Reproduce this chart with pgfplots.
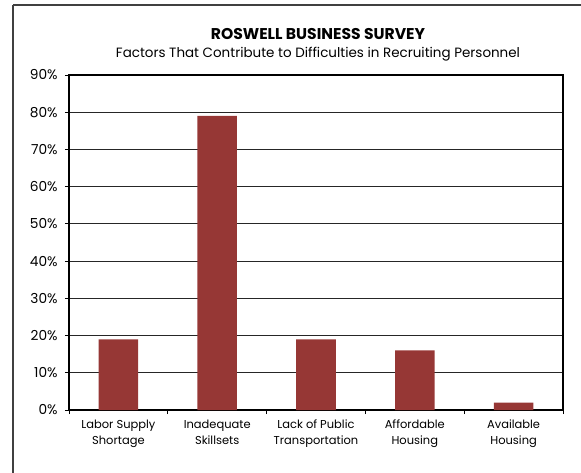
\documentclass[border=0pt]{standalone}
\usepackage{pgfplots}
\pgfplotsset{compat=1.18}
\usepackage{fontspec}
\setmainfont{Poppins}
\definecolor{barred}{RGB}{150,55,53}
\begin{document}
\begin{tikzpicture}
\begin{scope}[x=0.75pt,y=-0.75pt]
\useasboundingbox (0,0) rectangle (581,473);
\draw[line width=0.9pt, black!75] (13,5) -- (590,5);
\draw[line width=0.9pt, black!75] (13,5) -- (13,480);
\node[font=\bfseries\fontsize{11.7}{13}\selectfont] at (318,34) {ROSWELL BUSINESS SURVEY};
\node[font=\fontsize{10.1}{12}\selectfont] at (318,54) {Factors That Contribute to Difficulties in Recruiting Personnel};
\end{scope}
\begin{axis}[
  at={(51.75pt,-307.5pt)}, anchor=south west,
  scale only axis, width=370.5pt, height=251.25pt,
  xmin=0.5, xmax=5.5, ymin=0, ymax=90,
  ytick={0,10,...,90},
  yticklabel={\pgfmathprintnumber{\tick}\%},
  /pgf/number format/assume math mode=true,
  ymajorgrids, grid style={black!85, line width=0.6pt},
  xtick={1,2,3,4,5},
  xticklabels={{Labor Supply\\Shortage},{Inadequate\\Skillsets},{Lack of Public\\Transportation},{Affordable\\Housing},{Available\\Housing}},
  xticklabel style={align=center, font=\fontsize{8.6}{12}\selectfont, yshift=-1pt},
  yticklabel style={font=\fontsize{10.3}{11}\selectfont, xshift=-2pt},
  major x tick style={draw=none},
  minor xtick={0.5,1.5,...,5.5},
  minor tick length=3pt,
  major tick length=3pt,
  tick align=outside,
  tick style={black, line width=0.7pt},
  xtick pos=bottom, ytick pos=left,
  axis line style={black, line width=0.8pt},
  ybar, bar width=0.4,
]
\addplot[fill=barred, draw=none] coordinates {(1,19) (2,79) (3,19) (4,16) (5,2)};
\end{axis}
\end{tikzpicture}
\end{document}
